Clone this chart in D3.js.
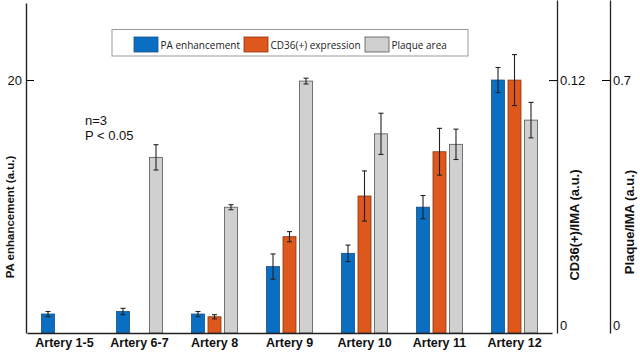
<!DOCTYPE html>
<html>
<head>
<meta charset="utf-8">
<script src="https://cdn.jsdelivr.net/npm/d3@7"></script>
<style>
  body { margin: 0; background: #fff; }
  svg { display: block; font-family: "Liberation Sans", Arial, sans-serif; }
</style>
</head>
<body>
<div id="chart"></div>
<script>
const categories = ["Artery 1-5", "Artery 6-7", "Artery 8", "Artery 9", "Artery 10", "Artery 11", "Artery 12"];
const series = ["PA enhancement", "CD36(+) expression", "Plaque area"];

// values per series (null = not drawn)
const paValues    = [1.5, 1.7, 1.5, 5.25, 6.3, 9.95, 20];
const paErrors    = [0.2, 0.25, 0.2, 1.0, 0.65, 0.92, 0.99];
const cd36Values  = [null, null, 0.0077, 0.0457, 0.065, 0.086, 0.12];
const cd36Errors  = [null, null, 0.001, 0.0024, 0.0119, 0.0111, 0.0121];
const plaqueValues = [null, 0.486, 0.348, 0.697, 0.551, 0.522, 0.589];
const plaqueErrors = [null, 0.035, 0.007, 0.008, 0.057, 0.042, 0.049];

const paTicks = [20];
const cd36Ticks = [0, 0.12];
const plaqueTicks = [0, 0.7];

const width = 640, height = 352;
const baseY = 333;

const svg = d3.select("#chart").append("svg")
  .attr("width", width).attr("height", height);

const x = d3.scaleBand().domain(categories).range([27, 552]);
const xs = d3.scaleBand().domain(series).range([14.5, 60.5]).paddingInner(0.21);

const yPA = d3.scaleLinear().domain([0, 26.09]).range([baseY, 3]);
const yCD = d3.scaleLinear().domain([0, 0.158]).range([baseY, 0]);
const yPL = d3.scaleLinear().domain([0, 0.9213]).range([baseY, 0]);

const colors = ["#0a6fc2", "#de571d", "#d0d0d0"];
const strokes = ["#174f86", "#8a3610", "#555"];
const scales = [yPA, yCD, yPL];
const vals = [paValues, cd36Values, plaqueValues];
const errs = [paErrors, cd36Errors, plaqueErrors];

const rows = [];
series.forEach((s, si) => {
  categories.forEach((c, ci) => {
    if (vals[si][ci] != null) rows.push({s, si, c, v: vals[si][ci], e: errs[si][ci]});
  });
});

// bars
svg.append("g").selectAll("rect")
  .data(rows)
  .join("rect")
  .attr("x", d => x(d.c) + xs(d.s))
  .attr("y", d => scales[d.si](d.v))
  .attr("width", xs.bandwidth())
  .attr("height", d => baseY - scales[d.si](d.v))
  .attr("fill", d => colors[d.si])
  .attr("stroke", d => strokes[d.si])
  .attr("stroke-width", 0.8);

// error bars
const eb = svg.append("g").attr("stroke", "#222").attr("stroke-width", 1.1)
  .selectAll("g").data(rows).join("g")
  .attr("transform", d => `translate(${x(d.c) + xs(d.s) + xs.bandwidth() / 2},0)`);
eb.append("line")
  .attr("y1", d => scales[d.si](d.v + d.e))
  .attr("y2", d => scales[d.si](d.v - d.e));
eb.append("line").attr("x1", -2.5).attr("x2", 2.5)
  .attr("y1", d => scales[d.si](d.v + d.e)).attr("y2", d => scales[d.si](d.v + d.e));
eb.append("line").attr("x1", -2.5).attr("x2", 2.5)
  .attr("y1", d => scales[d.si](d.v - d.e)).attr("y2", d => scales[d.si](d.v - d.e));

// x axis
const gx = svg.append("g")
  .attr("transform", `translate(0,${baseY})`)
  .call(d3.axisBottom(x).tickSize(0).tickPadding(5).tickSizeOuter(0));
gx.select(".domain").attr("stroke", "#222").attr("stroke-width", 1.6);
gx.selectAll("text").attr("font-size", 12.5).attr("font-weight", "bold")
  .attr("font-family", "Liberation Sans, Arial, sans-serif").attr("fill", "#111");

// left axis
const gl = svg.append("g")
  .attr("transform", "translate(26,0)")
  .call(d3.axisLeft(yPA).tickValues(paTicks).tickSize(-8).tickPadding(4).tickSizeOuter(0));
gl.select(".domain").attr("stroke", "#222").attr("stroke-width", 1.4);
gl.selectAll("text").attr("font-size", 13).attr("fill", "#111")
  .attr("font-family", "Liberation Sans, Arial, sans-serif");

// right axes
function rightAxis(scale, ticks, xPos) {
  const g = svg.append("g")
    .attr("transform", `translate(${xPos},0)`)
    .call(d3.axisRight(scale).tickValues(ticks).tickSize(-8).tickPadding(3).tickSizeOuter(0)
      .tickFormat(d => d === 0 ? "0" : String(d)));
  g.select(".domain").attr("stroke", "#222").attr("stroke-width", 1.3);
  g.selectAll("text").attr("font-size", 13).attr("fill", "#111")
    .attr("font-family", "Liberation Sans, Arial, sans-serif");
  g.selectAll(".tick").filter(d => d === 0).select("line").remove();
  g.selectAll(".tick").filter(d => d === 0).select("text").attr("dy", "-0.3em");
  return g;
}
rightAxis(yCD, cd36Ticks, 557);
rightAxis(yPL, plaqueTicks, 610);

// axis titles
svg.append("text")
  .attr("transform", "translate(14,217) rotate(-90)")
  .attr("text-anchor", "middle").attr("font-size", 11.5).attr("font-weight", "bold")
  .attr("fill", "#111").text("PA enhancement (a.u.)");
svg.append("text")
  .attr("transform", "translate(579,225) rotate(-90)")
  .attr("text-anchor", "middle").attr("font-size", 13).attr("font-weight", "bold")
  .attr("fill", "#111").text("CD36(+)/IMA (a.u.)");
svg.append("text")
  .attr("transform", "translate(634,222) rotate(-90)")
  .attr("text-anchor", "middle").attr("font-size", 13).attr("font-weight", "bold")
  .attr("fill", "#111").text("Plaque/IMA (a.u.)");

// annotation
svg.append("text").attr("x", 85).attr("y", 125).attr("font-size", 13).attr("fill", "#111").text("n=3");
svg.append("text").attr("x", 85).attr("y", 140).attr("font-size", 13).attr("fill", "#111").text("P < 0.05");

// legend
const lg = svg.append("g").attr("font-family", "Open Sans, sans-serif");
lg.append("rect").attr("x", 112).attr("y", 29.5).attr("width", 356).attr("height", 26.5)
  .attr("fill", "#fff").attr("stroke", "#999").attr("stroke-width", 1);
const legendX = [134, 244, 365];
const li = lg.selectAll("g.item").data(series).join("g").attr("class", "item")
  .attr("transform", (d, i) => `translate(${legendX[i]},37)`);
li.append("rect").attr("width", 24).attr("height", 15)
  .attr("fill", (d, i) => colors[i]).attr("stroke", (d, i) => strokes[i]).attr("stroke-width", 0.8);
li.append("text").attr("x", 26.5).attr("y", 11.5).attr("font-size", 10).attr("fill", "#222").text(d => d);
</script>
</body>
</html>
